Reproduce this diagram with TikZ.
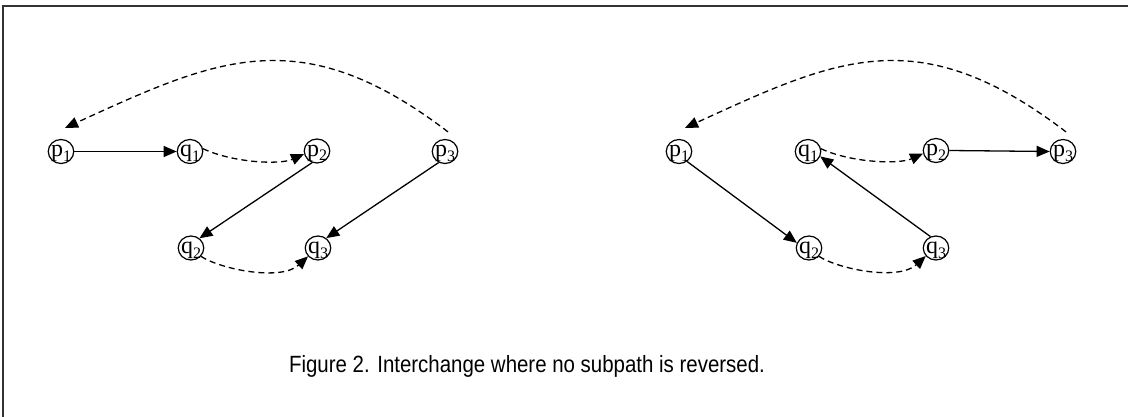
\documentclass[tikz,border=0pt]{standalone}
\usepackage{fontspec}
\setmainfont{Liberation Serif}
\newfontfamily\capfont{Liberation Sans}
\usetikzlibrary{arrows.meta,shapes.geometric}
\newcommand\vlbl[2]{\smash{\makebox[0pt]{\raisebox{-5.5pt}{\fontsize{24}{24}\selectfont #1\raisebox{-4.5pt}{\fontsize{16}{16}\selectfont #2}}}}}
\begin{document}
\begin{tikzpicture}[x=1pt,y=1pt,
  vtx/.style={draw,ellipse,minimum width=25.5pt,minimum height=24pt,inner sep=0pt,line width=1.2pt},
  solidarr/.style={line width=1.3pt,-{Triangle[length=13pt,width=11pt]}},
  dasharr/.style={line width=1.3pt,dash pattern=on 6pt off 4pt,-{Triangle[length=13pt,width=11pt]}},
  frameline/.style={line width=2pt,draw=black!80}]
\useasboundingbox (0,0) rectangle (1128,-417);
\draw[frameline] (3.3,-417) -- (3.3,-6) -- (1128,-6);

% left graph
\node[vtx] (lp1) at (61,-151.5) {\vlbl{p}{1}};
\node[vtx] (lq1) at (190,-151.5) {\vlbl{q}{1}};
\node[vtx] (lp2) at (317,-151) {\vlbl{p}{2}};
\node[vtx] (lp3) at (445,-151.5) {\vlbl{p}{3}};
\node[vtx] (lq2) at (191,-248) {\vlbl{q}{2}};
\node[vtx] (lq3) at (318,-248) {\vlbl{q}{3}};

\draw[solidarr] (lp1) -- (lq1);
\draw[dasharr] (lq1.12) .. controls +(30,-14) and +(-24,-11) .. (lp2.193);
\draw[solidarr] (lp2.247) -- (lq2.49);
\draw[solidarr] (lp3.240) -- (lq3.50);
\draw[dasharr] (lq2.-40) .. controls +(20,-13) and +(-27,-25) .. (lq3.220);
\draw[dasharr] ([shift={(3,7)}]lp3.north) .. controls +(-148,113) and +(151,69) .. ([shift={(4,11)}]lp1.north);

% right graph
\node[vtx] (rp1) at (679,-151.5) {\vlbl{p}{1}};
\node[vtx] (rq1) at (808,-151.5) {\vlbl{q}{1}};
\node[vtx] (rp2) at (936,-150.5) {\vlbl{p}{2}};
\node[vtx] (rp3) at (1063,-151.5) {\vlbl{p}{3}};
\node[vtx] (rq2) at (809,-248) {\vlbl{q}{2}};
\node[vtx] (rq3) at (936,-248) {\vlbl{q}{3}};

\draw[solidarr] (rp1.-51) -- (rq2.157);
\draw[dasharr] (rq1.12) .. controls +(30,-14) and +(-24,-11) .. (rp2.193);
\draw[solidarr] (rp2.east) -- (rp3.west);
\draw[solidarr] (rq3.116) -- (rq1.-22);
\draw[dasharr] (rq2.-40) .. controls +(20,-13) and +(-27,-25) .. (rq3.218);
\draw[dasharr] ([shift={(3,7)}]rp3.north) .. controls +(-148,113) and +(151,69) .. ([shift={(6,11)}]rp1.north);

% caption
\node[anchor=base,inner sep=0pt] (cap) at (527,-372) {\capfont\fontsize{23.5}{23.5}\selectfont\scalebox{0.87}[1]{Figure 2. Interchange where no subpath is reversed.}};
\end{tikzpicture}
\end{document}
